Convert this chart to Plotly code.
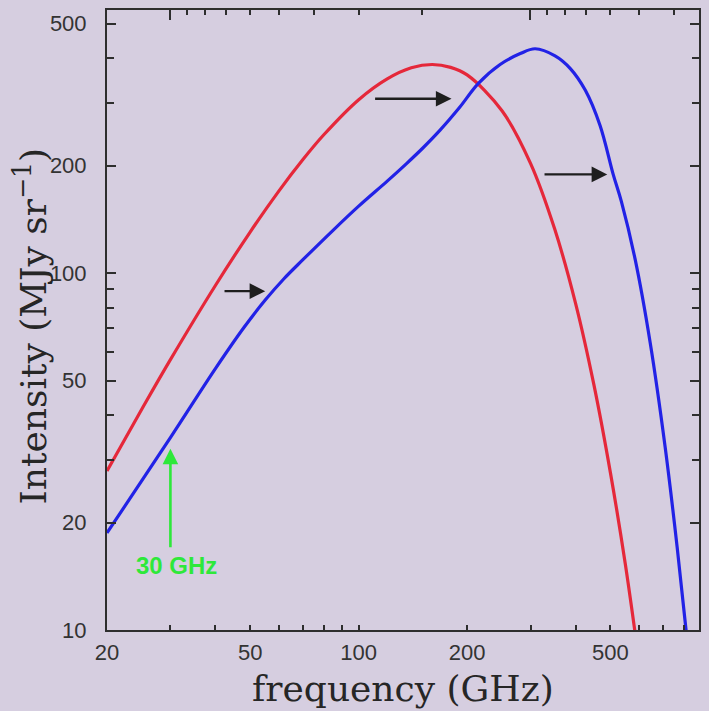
import math
import plotly.graph_objects as go

# Spectrum of the unshifted (red) and shifted (blue) radiation, MJy/sr
red_freq = [20, 25, 30, 40, 50, 60, 70, 80, 100, 120, 140, 160, 180, 200,
            250, 300, 350, 400, 450, 500, 550, 600, 620]
red_int = [27.9, 41.6, 57.2, 92.3, 130.5, 169.7, 208, 244, 306, 350, 376, 384,
           377, 359, 285, 203, 133, 82.4, 48.6, 27.6, 15.3, 8.2, 6.4]

blue_freq = [20, 30, 40, 48, 55, 62, 70, 85, 100, 120, 136, 150, 168, 190, 215,
             247, 281, 309, 351, 387, 426, 468, 509, 536, 586, 645, 710, 766,
             811, 845]
blue_int = [18.7, 34.6, 54.0, 70.4, 84, 96.4, 109, 132, 154, 181, 203, 223,
            251, 290, 340, 384, 412, 425, 406, 374, 325, 259, 189, 159, 109,
            63.7, 32.4, 17.1, 10, 6.7]

# Axis ticks
x_major = [20, 50, 100, 200, 500]
x_minor = [30, 40, 60, 70, 80, 90, 300, 400, 600, 700, 800]
y_major = [10, 20, 50, 100, 200, 500]
y_minor = [30, 40, 60, 70, 80, 90, 300, 400]
wavelength_major_mm = [10, 1]
wavelength_minor_mm = [9, 8, 7, 6, 5, 4, 3, 2, 0.9, 0.8, 0.7, 0.6, 0.5, 0.4]
C_MM_GHZ = 299.792458

# Shift arrows: (tail frequency, head frequency, intensity)
shift_arrows = [(42, 55, 89), (110, 181, 308), (325, 490, 189)]
marker_freq = 30
marker_span = (16.9, 32.2)
marker_label = "30 GHz"
marker_label_pos = (31.1, 15.2)

X_RANGE = [math.log10(20), 2.945]
Y_RANGE = [1.0, 2.737]

BG = "#d6cee0"
AX = "#2e2e2e"
TICK_FONT = dict(family="Liberation Sans, Arial, sans-serif", size=22, color="#333333")
TITLE_FONT = dict(family="DejaVu Serif, serif", size=36, color="#262626")

fig = go.Figure()
fig.add_trace(go.Scatter(x=red_freq, y=red_int, mode="lines",
                         line=dict(color="#e5283a", width=3.2, shape="spline"),
                         hoverinfo="skip", showlegend=False))
fig.add_trace(go.Scatter(x=blue_freq, y=blue_int, mode="lines",
                         line=dict(color="#2222e6", width=3.2, shape="spline"),
                         hoverinfo="skip", showlegend=False))
# carrier for the top (wavelength) tick axis
fig.add_trace(go.Scatter(x=red_freq, y=red_int, mode="lines", xaxis="x2",
                         line=dict(color="rgba(0,0,0,0)", width=0),
                         hoverinfo="skip", showlegend=False))

annotations = []
for tail, head, inten in shift_arrows:
    annotations.append(dict(
        x=math.log10(head), y=math.log10(inten), xref="x", yref="y",
        ax=math.log10(tail), ay=math.log10(inten), axref="x", ayref="y",
        text="", showarrow=True, arrowhead=2, arrowsize=1.3, arrowwidth=2.4,
        arrowcolor="#1e1e1e", standoff=0, startstandoff=0))
annotations.append(dict(
    x=math.log10(marker_freq), y=math.log10(marker_span[1]), xref="x", yref="y",
    ax=math.log10(marker_freq), ay=math.log10(marker_span[0]), axref="x", ayref="y",
    text="", showarrow=True, arrowhead=2, arrowsize=1.2, arrowwidth=2.6,
    arrowcolor="#2ee83a", standoff=0))
annotations.append(dict(
    x=math.log10(marker_label_pos[0]), y=math.log10(marker_label_pos[1]),
    xref="x", yref="y", text="<b>" + marker_label + "</b>", showarrow=False,
    font=dict(family="Liberation Sans, Arial, sans-serif", size=24, color="#2ee83a"),
    xanchor="center", yanchor="middle"))
annotations.append(dict(
    x=0.5, y=-0.095, xref="paper", yref="paper", text="frequency (GHz)",
    showarrow=False, font=TITLE_FONT, xanchor="center", yanchor="middle"))
annotations.append(dict(
    x=-0.128, y=0.49, xref="paper", yref="paper",
    text="Intensity (MJy sr<sup>\u22121</sup>)", textangle=-90,
    showarrow=False, font=TITLE_FONT, xanchor="center", yanchor="middle"))

fig.update_layout(
    width=709, height=711,
    margin=dict(l=107, r=9, t=8, b=81),
    paper_bgcolor=BG, plot_bgcolor=BG,
    annotations=annotations,
    shapes=[dict(type="line", xref="x", yref="paper",
                 x0=math.log10(100), x1=math.log10(100), y0=0, y1=0.02,
                 line=dict(color=AX, width=2))],
    xaxis=dict(type="log", range=X_RANGE, tickmode="array", tickvals=x_major,
               ticktext=[str(v) for v in x_major], ticks="inside", ticklen=5,
               tickwidth=2, tickcolor=AX, showline=True, linecolor=AX,
               linewidth=2, mirror=True, showgrid=False, zeroline=False,
               tickfont=TICK_FONT, ticklabelstandoff=2,
               minor=dict(tickmode="array", tickvals=x_minor, ticks="inside",
                          ticklen=5, tickwidth=2, tickcolor=AX, showgrid=False)),
    xaxis2=dict(type="log", range=X_RANGE, overlaying="x", side="top",
                tickmode="array",
                tickvals=[C_MM_GHZ / w for w in wavelength_major_mm],
                ticks="inside", ticklen=10, tickwidth=2, tickcolor=AX,
                showticklabels=False, showgrid=False, zeroline=False,
                showline=False,
                minor=dict(tickmode="array",
                           tickvals=[C_MM_GHZ / w for w in wavelength_minor_mm],
                           ticks="inside", ticklen=5, tickwidth=2,
                           tickcolor=AX, showgrid=False)),
    yaxis=dict(type="log", range=Y_RANGE, tickmode="array", tickvals=y_major,
               ticktext=[str(v) for v in y_major], ticks="inside", ticklen=9,
               tickwidth=2, tickcolor=AX, showline=True, linecolor=AX,
               linewidth=2, mirror="ticks", showgrid=False, zeroline=False,
               tickfont=TICK_FONT, ticklabelstandoff=14,
               minor=dict(tickmode="array", tickvals=y_minor, ticks="inside",
                          ticklen=7, tickwidth=2, tickcolor=AX, showgrid=False)),
)

fig.write_html("out.html")
